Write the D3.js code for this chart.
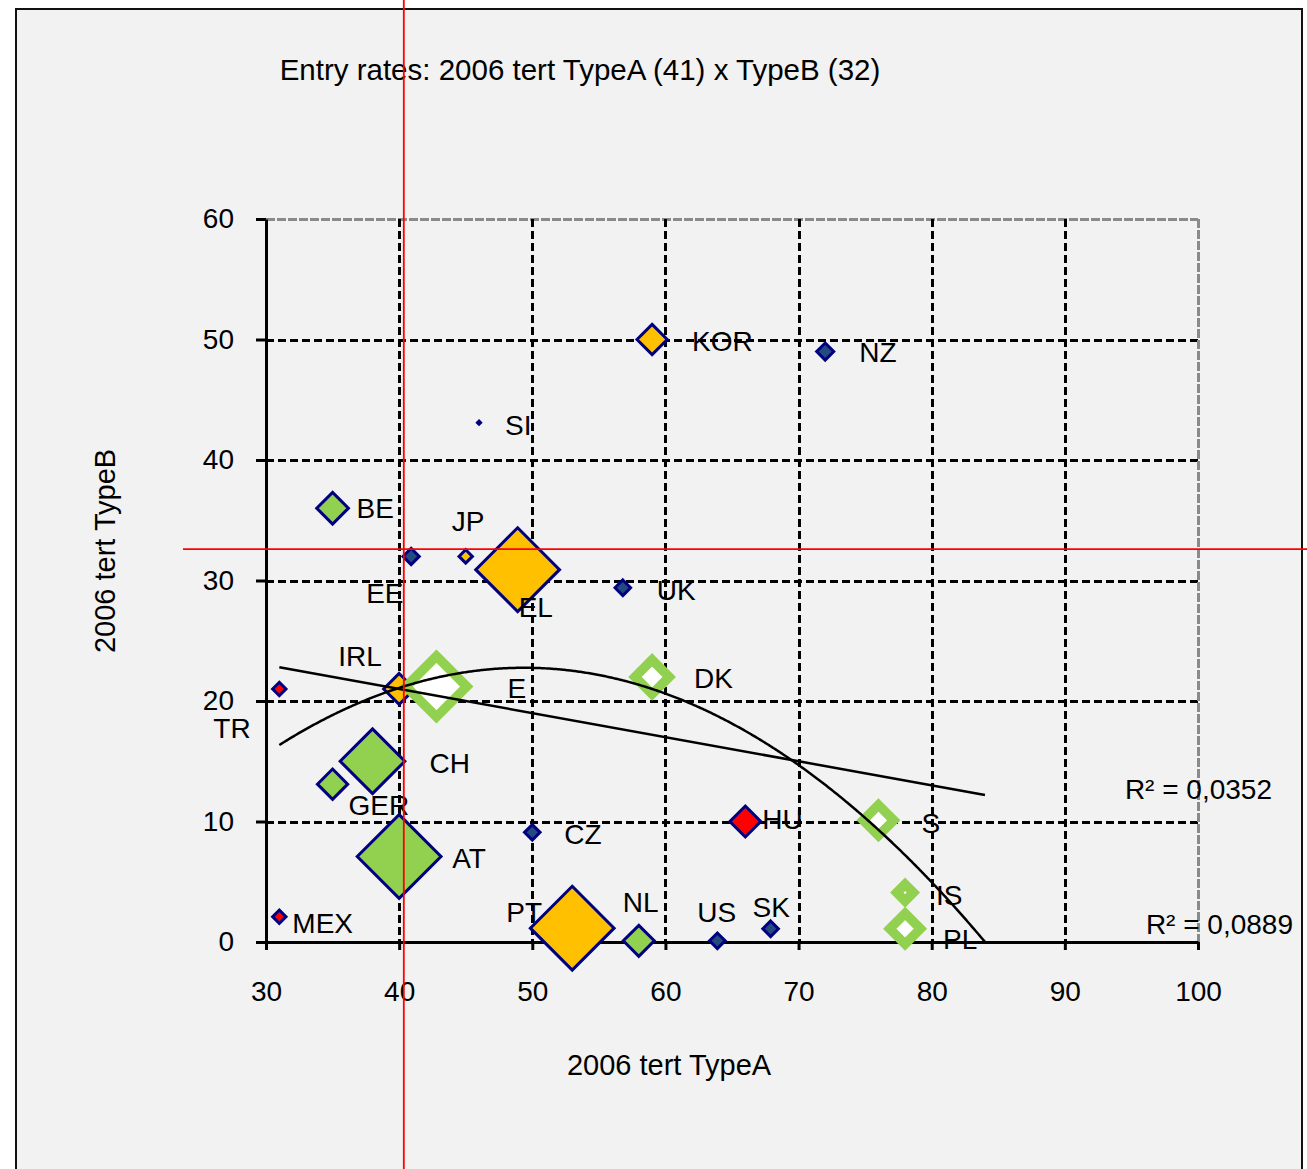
<!DOCTYPE html>
<html>
<head>
<meta charset="utf-8">
<script src="https://cdn.jsdelivr.net/npm/d3@7"></script>
<style>
  html, body { margin: 0; padding: 0; background: #ffffff; }
  svg { display: block; }
  text { font-family: "Liberation Sans", Arial, sans-serif; fill: #000; }
</style>
</head>
<body>
<svg id="chart" width="1307" height="1169"></svg>
<script>
// ---------------- DATA ----------------
const countries = ["KOR","NZ","SI","BE","EE","JP","EL","UK","IRL","TR","CH","GER","AT","CZ","HU","MEX","PT","NL","US","SK","E","DK","S","IS","PL"];
const typeA     = [59, 72, 46, 35, 40.9, 45, 48.9, 56.8, 40, 31, 38, 35, 40, 50, 66, 31, 53, 58, 63.9, 67.9, 42.8, 59, 76, 78, 78];
const typeB     = [50, 49, 43.1, 36, 32, 32, 30.9, 29.4, 21, 21, 15, 13.1, 7.1, 9.1, 10, 2.1, 1.15, 0.1, 0.1, 1.1, 21.2, 22, 10.1, 4.1, 1.1];
// colour group of each country
const groups    = ["gold","blue","blue","green","blue","gold","gold","blue","gold","red","green","green","green","blue","red","red","gold","green","blue","blue","hollow","hollow","hollow","hollow","hollow"];
// relative marker size (third variable)
const weights   = [4.7, 2.9, 1.0, 4.9, 2.8, 2.4, 12, 2.7, 4.8, 2.4, 9.4, 4.7, 12, 2.7, 4.8, 2.4, 12, 4.8, 2.7, 2.7, 10.1, 6.5, 6.0, 4.1, 6.0];

const xTicks = [30, 40, 50, 60, 70, 80, 90, 100];
const yTicks = [0, 10, 20, 30, 40, 50, 60];

// trend lines
const linearCoef = [29.0, -0.2];                 // y = a + b x
const polyCoef   = [-23.52, 1.8744, -0.01898];   // y = a + b x + c x^2
const trendRange = [31, 84];
const rSquared   = ["R² = 0,0352", "R² = 0,0889"];

// reference (mean) lines
const refX = 40.35, refY = 32.6;

const title  = "Entry rates: 2006 tert TypeA (41) x TypeB (32)";
const xTitle = "2006 tert TypeA";
const yTitle = "2006 tert TypeB";

// label placement (layout only, pixels relative to marker centre)
const labelOffsets = {
  KOR:[40,11], NZ:[34,10], SI:[26,12], BE:[24,10], EE:[-45,47], JP:[-14,-25], EL:[1,47], UK:[34,12],
  IRL:[-61,-23], TR:[-66,49], CH:[57,12], GER:[16,31], AT:[53,12], CZ:[32,12], HU:[17,7], MEX:[13,16],
  PT:[-66,-6], NL:[-16,-29], US:[-20,-19], SK:[-18,-12], E:[71,11], DK:[42,11], S:[43,13], IS:[31,12], PL:[38,20]
};

// ---------------- LAYOUT ----------------
const svg = d3.select("#chart");
const W = 1307, H = 1169;
const plot = {left: 266, right: 1198, top: 219, bottom: 942};
const FONT = 28;

const x = d3.scaleLinear().domain([30, 100]).range([plot.left, plot.right]);
const y = d3.scaleLinear().domain([0, 60]).range([plot.bottom, plot.top]);
const sizeScale = d3.scaleLinear().domain([0, 12]).range([0, 44]);
const px = v => Math.round(v) + 0.5;

const fills = {gold: "#FFC000", blue: "#234B80", green: "#92D050", red: "#FF0000", hollow: "#FFFFFF"};

// outer frame
svg.append("rect").attr("x", 0).attr("y", 0).attr("width", W).attr("height", H).attr("fill", "#ffffff");
svg.append("rect").attr("x", 16).attr("y", 9).attr("width", 1286).attr("height", 1200)
  .attr("fill", "#f2f2f2").attr("stroke", "#111").attr("stroke-width", 2);

// gridlines
const grid = svg.append("g");
yTicks.filter(t => t > 0).forEach(t => {
  grid.append("line").attr("x1", plot.left).attr("x2", plot.right).attr("y1", px(y(t))).attr("y2", px(y(t)))
    .attr("stroke", t === 60 ? "#8a8a8a" : "#000").attr("stroke-width", 3)
    .attr("stroke-dasharray", t === 60 ? "9,2" : "8,4");
});
xTicks.filter(t => t > 30).forEach(t => {
  grid.append("line").attr("x1", px(x(t))).attr("x2", px(x(t))).attr("y1", plot.top).attr("y2", plot.bottom)
    .attr("stroke", t === 100 ? "#8a8a8a" : "#000").attr("stroke-width", 3)
    .attr("stroke-dasharray", t === 100 ? "9,2" : "8,4");
});

// axes
const yAxis = svg.append("g").attr("transform", `translate(${plot.left},0)`)
  .call(d3.axisLeft(y).tickValues(yTicks).tickSize(10).tickSizeOuter(0).tickPadding(22));
const xAxis = svg.append("g").attr("transform", `translate(0,${plot.bottom})`)
  .call(d3.axisBottom(x).tickValues(xTicks).tickSize(8).tickSizeOuter(0).tickPadding(37));
[yAxis, xAxis].forEach(a => {
  a.select(".domain").attr("stroke", "#000").attr("stroke-width", 3);
  a.selectAll(".tick line").attr("stroke", "#000").attr("stroke-width", 3);
  a.selectAll(".tick text").attr("font-size", FONT).attr("font-family", "Liberation Sans, Arial, sans-serif").attr("fill", "#000");
});
xAxis.selectAll(".tick text").attr("dy", "0.5em");

// markers
const diamond = (cx, cy, h) => `M${cx},${cy - h}L${cx + h},${cy}L${cx},${cy + h}L${cx - h},${cy}Z`;
const pts = countries.map((c, i) => ({name: c, a: typeA[i], b: typeB[i], g: groups[i], w: weights[i]}));
const mk = svg.append("g");
pts.forEach(p => {
  const cx = x(p.a), cy = y(p.b), outer = sizeScale(p.w);
  if (p.g === "hollow") {
    const sw = 9.5;
    mk.append("path").attr("d", diamond(cx, cy, Math.max(outer - sw / Math.SQRT2, 0.5)))
      .attr("fill", "#ffffff").attr("stroke", "#92D050").attr("stroke-width", sw).attr("stroke-linejoin", "miter");
  } else {
    const sw = 3;
    mk.append("path").attr("d", diamond(cx, cy, Math.max(outer - sw / Math.SQRT2, 0.8)))
      .attr("fill", fills[p.g]).attr("stroke", "#000080").attr("stroke-width", sw);
  }
});

// trend lines
const lin = v => linearCoef[0] + linearCoef[1] * v;
const poly = v => polyCoef[0] + polyCoef[1] * v + polyCoef[2] * v * v;
svg.append("line").attr("x1", x(trendRange[0])).attr("y1", y(lin(trendRange[0])))
  .attr("x2", x(trendRange[1])).attr("y2", y(lin(trendRange[1])))
  .attr("stroke", "#000").attr("stroke-width", 2.5);
const polyPts = d3.range(trendRange[0], trendRange[1] + 0.001, 0.1).map(v => [v, Math.max(poly(v), 0)]);
svg.append("path").attr("d", d3.line().x(d => x(d[0])).y(d => y(d[1]))(polyPts))
  .attr("fill", "none").attr("stroke", "#000").attr("stroke-width", 2.5);

// R² labels
svg.append("text").attr("x", 1272).attr("y", 799).attr("text-anchor", "end").attr("font-size", FONT).text(rSquared[0]);
svg.append("text").attr("x", 1293).attr("y", 934).attr("text-anchor", "end").attr("font-size", FONT).text(rSquared[1]);

// data labels
const lb = svg.append("g");
pts.forEach(p => {
  const off = labelOffsets[p.name];
  lb.append("text").attr("x", x(p.a) + off[0]).attr("y", y(p.b) + off[1]).attr("font-size", FONT).text(p.name);
});

// titles
svg.append("text").attr("x", 580).attr("y", 80).attr("text-anchor", "middle").attr("font-size", 29.5).text(title);
svg.append("text").attr("x", 669).attr("y", 1075).attr("text-anchor", "middle").attr("font-size", 29).text(xTitle);
svg.append("text").attr("transform", "translate(115,551) rotate(-90)").attr("text-anchor", "middle").attr("font-size", 29).text(yTitle);

// red reference lines
svg.append("line").attr("x1", x(refX)).attr("x2", x(refX)).attr("y1", 0).attr("y2", H)
  .attr("stroke", "#ff0000").attr("stroke-width", 1.8);
svg.append("line").attr("x1", 183).attr("x2", W).attr("y1", y(refY)).attr("y2", y(refY))
  .attr("stroke", "#ff0000").attr("stroke-width", 1.8);
</script>
</body>
</html>
